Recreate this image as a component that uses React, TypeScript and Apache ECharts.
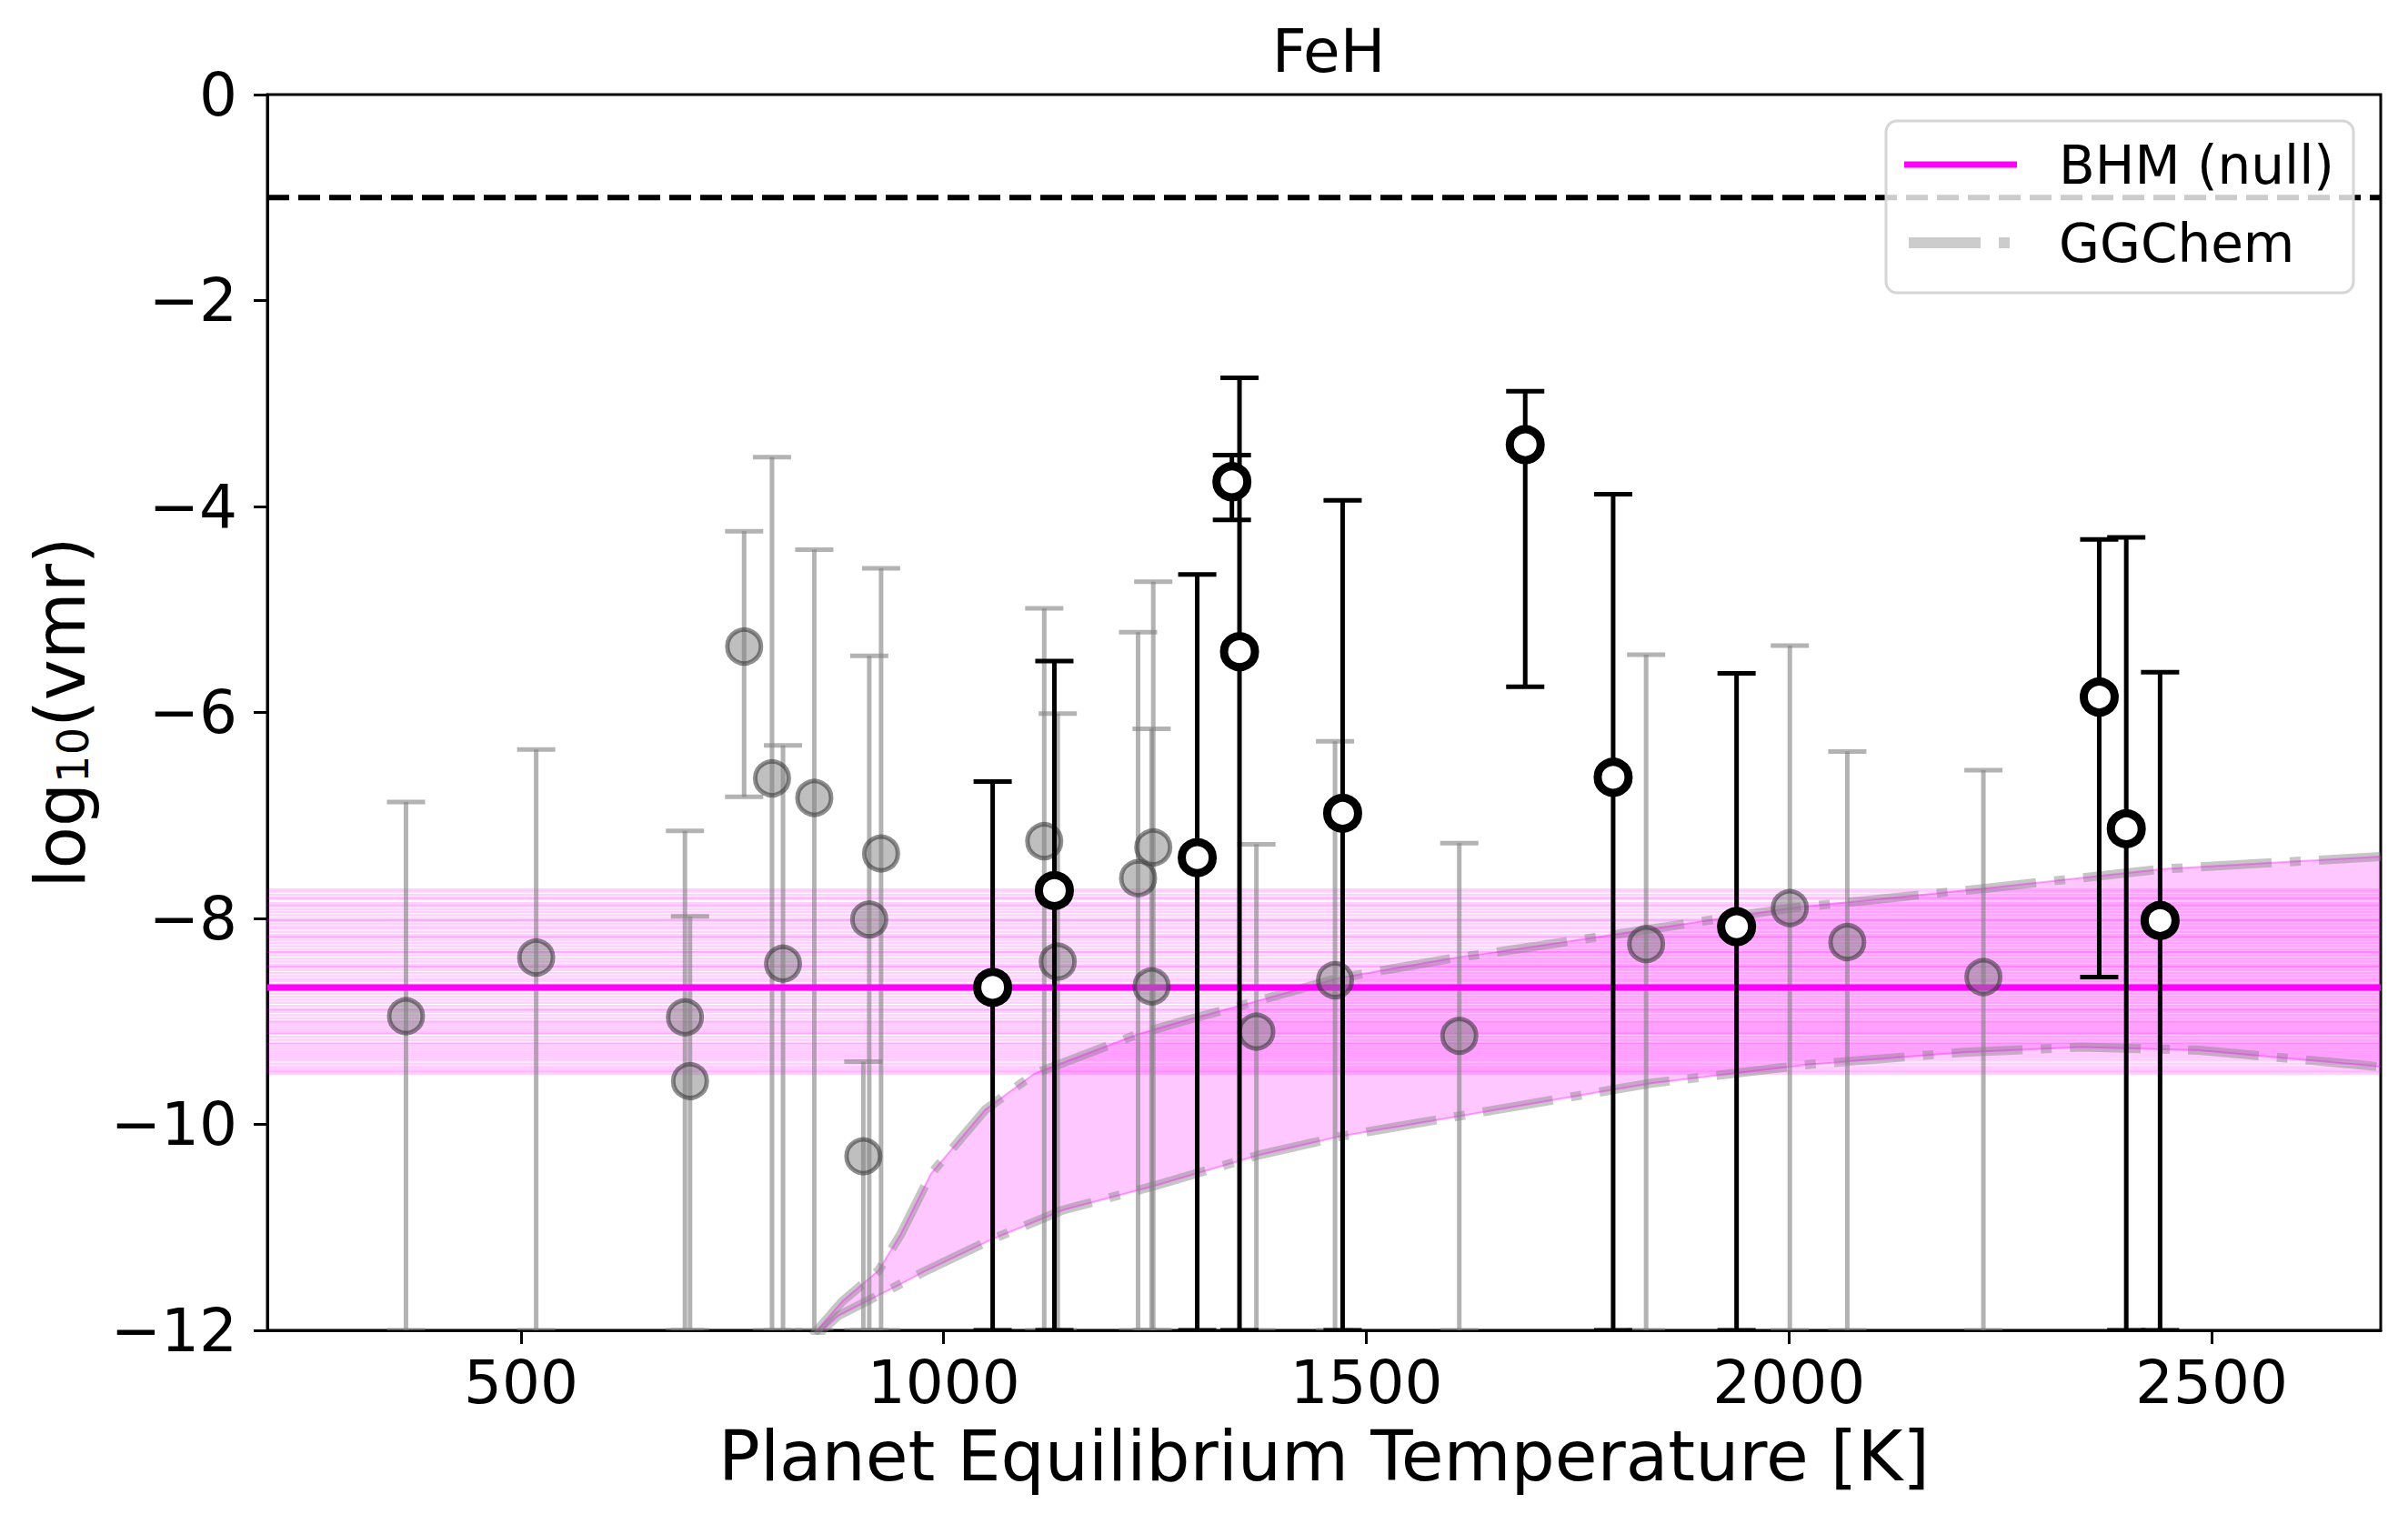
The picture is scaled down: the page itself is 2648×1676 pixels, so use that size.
import React, { useEffect, useRef } from 'react';
import * as echarts from 'echarts';

const FONT = 'DejaVu Sans';

// Axis ranges and ticks
const xMin = 200;
const xMax = 2700;
const yMin = -12;
const yMax = 0;
const xTicks = [500, 1000, 1500, 2000, 2500];

// Literature / other retrievals (grey points)
const grayTemp = [364, 518, 694, 700, 764, 797, 810, 847, 905, 912, 926, 1119, 1135, 1230, 1246, 1248, 1370, 1463, 1610, 1831, 2001, 2069, 2230];
const grayVal = [-8.95, -8.38, -8.96, -9.58, -5.36, -6.64, -8.44, -6.83, -10.31, -8.01, -7.37, -7.25, -8.42, -7.61, -8.66, -7.31, -9.10, -8.60, -9.14, -8.25, -7.90, -8.23, -8.57];
const grayUp = [-6.87, -6.36, -7.15, -7.98, -4.24, -3.52, -6.32, -4.42, -9.39, -5.45, -4.60, -4.99, -6.01, -5.22, -6.16, -4.73, -7.28, -6.28, -7.27, -5.44, -5.35, -6.38, -6.56];
const grayLow = [-12, -12, -12, -12, -6.82, -12, -12, -12, -12, -12, -12, -12, -12, -12, -12, -12, -12, -12, -12, -12, -12, -12, -12];

// This work (white points)
const blackTemp = [1058, 1131, 1300, 1341, 1350, 1472, 1688, 1792, 1938, 2367, 2399, 2439];
const blackVal = [-8.67, -7.73, -7.41, -3.76, -5.41, -6.98, -3.40, -6.63, -8.08, -5.85, -7.13, -8.02];
const blackUp = [-6.67, -5.50, -4.66, -3.50, -2.75, -3.94, -2.88, -3.88, -5.62, -4.32, -4.30, -5.61];
const blackLow = [-12, -12, -12, -4.13, -12, -12, -5.75, -12, -12, -8.57, -12, -12];

// BHM (null) median and posterior draws
const bhmMedian = -8.67;
const bhmSamples = [
  -7.72, -7.74, -7.77, -7.80, -7.81, -7.85, -7.87, -7.88, -7.91, -7.94, -7.97, -8.00, -8.02, -8.02,
  -8.05, -8.08, -8.10, -8.13, -8.16, -8.18, -8.18, -8.21, -8.24, -8.27, -8.30, -8.33, -8.33, -8.36,
  -8.39, -8.42, -8.45, -8.47, -8.47, -8.50, -8.53, -8.56, -8.59, -8.61, -8.64, -8.70, -8.73, -8.76,
  -8.79, -8.82, -8.85, -8.88, -8.89, -8.91, -8.94, -8.97, -9.00, -9.01, -9.03, -9.05, -9.07, -9.09,
  -9.11, -9.12, -9.15, -9.18, -9.21, -9.22, -9.24, -9.26, -9.28, -9.30, -9.32, -9.34, -9.36, -9.38,
  -9.41, -9.44, -9.46, -9.48, -9.49, -9.51,
];

// GGChem envelope
const ggUpperT = [845, 880, 923, 949, 985, 1049, 1107, 1142, 1228, 1282, 1372, 1467, 1607, 1652, 1791, 2001, 2230, 2442, 2700];
const ggUpperV = [-12.05, -11.72, -11.42, -11.07, -10.48, -9.86, -9.51, -9.40, -9.13, -9.00, -8.80, -8.58, -8.38, -8.33, -8.16, -7.90, -7.71, -7.52, -7.40];
const ggLowerT = [850, 875, 949, 977, 1056, 1142, 1248, 1372, 1467, 1652, 1837, 2022, 2207, 2346, 2485, 2700];
const ggLowerV = [-12.05, -11.86, -11.55, -11.43, -11.12, -10.83, -10.60, -10.30, -10.12, -9.86, -9.60, -9.42, -9.30, -9.25, -9.28, -9.44];

// Reference level (dashed)
const refLevel = -1;

const fmtY = (v: number) => (v < 0 ? '\u2212' + Math.abs(v) : String(v));
const fmtX = (v: number) => String(v);

function errRender(color: string, lw: number, capHalf: number) {
  return (params: any, api: any) => {
    const x = api.value(0);
    const lo = api.value(1);
    const hi = api.value(2);
    const pl = api.coord([x, lo]);
    const ph = api.coord([x, hi]);
    const style = { stroke: color, lineWidth: lw };
    return {
      type: 'group',
      children: [
        { type: 'line', shape: { x1: pl[0], y1: pl[1], x2: ph[0], y2: ph[1] }, style },
        { type: 'line', shape: { x1: pl[0] - capHalf, y1: pl[1], x2: pl[0] + capHalf, y2: pl[1] }, style },
        { type: 'line', shape: { x1: ph[0] - capHalf, y1: ph[1], x2: ph[0] + capHalf, y2: ph[1] }, style },
      ],
    };
  };
}

export default function App() {
  const ref = useRef<HTMLDivElement>(null);

  useEffect(() => {
    if (!ref.current) return;
    const chart = echarts.init(ref.current, null, { renderer: 'svg' });

    const ggLineCommon = {
      type: 'line',
      symbol: 'none',
      silent: true,
      clip: true,
    };

    const option: any = {
      animation: false,
      backgroundColor: '#fff',
      textStyle: { fontFamily: FONT },
      title: {
        text: 'FeH',
        left: 1456,
        top: 18,
        textAlign: 'center',
        textStyle: { fontFamily: FONT, fontSize: 66, fontWeight: 'normal', color: '#000' },
      },
      grid: {
        left: 294,
        top: 104,
        width: 2324,
        height: 1359,
        show: true,
        borderColor: '#000',
        borderWidth: 3,
        backgroundColor: 'transparent',
        containLabel: false,
      },
      xAxis: {
        type: 'value',
        min: xMin,
        max: xMax,
        name: 'Planet Equilibrium Temperature [K]',
        nameLocation: 'middle',
        nameGap: 100,
        nameTextStyle: { fontFamily: FONT, fontSize: 76, color: '#000' },
        axisLine: { show: true, onZero: false, lineStyle: { color: '#000', width: 3 } },
        axisTick: { show: true, customValues: xTicks, length: 15, lineStyle: { color: '#000', width: 3 } },
        axisLabel: { customValues: xTicks, fontFamily: FONT, fontSize: 66, color: '#000', margin: 24, formatter: fmtX },
        splitLine: { show: false },
      },
      yAxis: {
        type: 'value',
        min: yMin,
        max: yMax,
        interval: 2,
        name: 'log{sub|10}(vmr)',
        nameLocation: 'middle',
        nameGap: 190,
        nameTextStyle: {
          fontFamily: FONT,
          fontSize: 76,
          color: '#000',
          rich: {
            sub: { fontFamily: FONT, fontSize: 48, lineHeight: 33, verticalAlign: 'bottom', color: '#000' },
          },
        },
        axisLine: { show: true, onZero: false, lineStyle: { color: '#000', width: 3 } },
        axisTick: { show: true, length: 15, lineStyle: { color: '#000', width: 3 } },
        axisLabel: { fontFamily: FONT, fontSize: 66, color: '#000', margin: 33, formatter: fmtY },
        splitLine: { show: false },
      },
      series: [
        // BHM posterior draws
        {
          name: 'BHM samples',
          type: 'custom',
          silent: true,
          clip: true,
          z: 1,
          data: bhmSamples.map((v) => [xMin, v]),
          encode: { x: 0, y: 1 },
          renderItem: (params: any, api: any) => {
            const cs = params.coordSys;
            const y = api.coord([xMin, api.value(1)])[1];
            return {
              type: 'line',
              shape: { x1: cs.x, y1: y, x2: cs.x + cs.width, y2: y },
              style: { stroke: 'rgba(255,0,255,0.18)', lineWidth: 2.5 },
            };
          },
        },
        // GGChem envelope fill
        {
          name: 'GGChem fill',
          type: 'custom',
          silent: true,
          clip: true,
          z: 2,
          data: [[xMin, yMin]],
          encode: { x: 0, y: 1 },
          renderItem: (params: any, api: any) => {
            const pts: number[][] = [];
            for (let i = 0; i < ggUpperT.length; i++) pts.push(api.coord([ggUpperT[i], ggUpperV[i]]));
            for (let i = ggLowerT.length - 1; i >= 0; i--) pts.push(api.coord([ggLowerT[i], ggLowerV[i]]));
            return {
              type: 'polygon',
              shape: { points: pts },
              style: { fill: 'rgba(255,0,255,0.22)', stroke: 'none' },
            };
          },
        },
        // GGChem curves (grey dash-dot) and thin magenta edges
        {
          ...ggLineCommon,
          name: 'GGChem',
          z: 3,
          data: ggUpperT.map((t, i) => [t, ggUpperV[i]]),
          lineStyle: { color: 'rgba(128,128,128,0.45)', width: 10, type: [78, 20, 12, 20], cap: 'butt' },
        },
        {
          ...ggLineCommon,
          name: 'GGChem low',
          z: 3,
          data: ggLowerT.map((t, i) => [t, ggLowerV[i]]),
          lineStyle: { color: 'rgba(128,128,128,0.45)', width: 10, type: [78, 20, 12, 20], cap: 'butt' },
        },
        {
          ...ggLineCommon,
          name: 'GGChem edge up',
          z: 3,
          data: ggUpperT.map((t, i) => [t, ggUpperV[i]]),
          lineStyle: { color: 'rgba(255,0,255,0.35)', width: 2 },
        },
        {
          ...ggLineCommon,
          name: 'GGChem edge low',
          z: 3,
          data: ggLowerT.map((t, i) => [t, ggLowerV[i]]),
          lineStyle: { color: 'rgba(255,0,255,0.35)', width: 2 },
        },
        // reference dashed line
        {
          type: 'line',
          name: 'ref',
          symbol: 'none',
          silent: true,
          z: 3,
          data: [[xMin, refLevel], [xMax, refLevel]],
          lineStyle: { color: '#000', width: 6, type: [24, 10], cap: 'butt' },
        },
        // grey error bars
        {
          name: 'grey errors',
          type: 'custom',
          silent: true,
          clip: true,
          z: 4,
          data: grayTemp.map((t, i) => [t, grayLow[i], grayUp[i]]),
          encode: { x: 0, y: [1, 2] },
          renderItem: errRender('rgba(128,128,128,0.6)', 5, 21),
        },
        // BHM median
        {
          type: 'line',
          name: 'BHM (null)',
          symbol: 'none',
          silent: true,
          z: 5,
          data: [[xMin, bhmMedian], [xMax, bhmMedian]],
          lineStyle: { color: '#ff00ff', width: 7 },
        },
        // grey markers
        {
          type: 'scatter',
          name: 'grey points',
          silent: true,
          z: 6,
          symbol: 'circle',
          symbolSize: 37,
          data: grayTemp.map((t, i) => [t, grayVal[i]]),
          itemStyle: { color: 'rgba(128,128,128,0.5)', borderColor: 'rgba(50,50,50,0.55)', borderWidth: 5, opacity: 1 },
        },
        // black error bars
        {
          name: 'black errors',
          type: 'custom',
          silent: true,
          clip: true,
          z: 7,
          data: blackTemp.map((t, i) => [t, blackLow[i], blackUp[i]]),
          encode: { x: 0, y: [1, 2] },
          renderItem: errRender('#000', 5, 21),
        },
        // black / white markers
        {
          type: 'scatter',
          name: 'this work',
          silent: true,
          z: 8,
          symbol: 'circle',
          symbolSize: 34,
          data: blackTemp.map((t, i) => [t, blackVal[i]]),
          itemStyle: { color: '#fff', borderColor: '#000', borderWidth: 9, opacity: 1 },
        },
      ],
      graphic: [
        {
          type: 'rect',
          z: 100,
          shape: { x: 2074, y: 133, width: 514, height: 189, r: 12 },
          style: { fill: 'rgba(255,255,255,0.8)', stroke: '#d6d6d6', lineWidth: 3 },
        },
        {
          type: 'line',
          z: 101,
          shape: { x1: 2094, y1: 181, x2: 2218, y2: 181 },
          style: { stroke: '#ff00ff', lineWidth: 7 },
        },
        {
          type: 'line',
          z: 101,
          shape: { x1: 2099, y1: 267, x2: 2218, y2: 267 },
          style: { stroke: '#cccccc', lineWidth: 12, lineDash: [79, 20, 12, 20], lineCap: 'butt' },
        },
        {
          type: 'text',
          z: 101,
          x: 2264,
          y: 182,
          style: { text: 'BHM (null)', fontFamily: FONT, fontSize: 58, fill: '#000', verticalAlign: 'middle', align: 'left' },
        },
        {
          type: 'text',
          z: 101,
          x: 2264,
          y: 268,
          style: { text: 'GGChem', fontFamily: FONT, fontSize: 58, fill: '#000', verticalAlign: 'middle', align: 'left' },
        },
      ],
    };

    chart.setOption(option);
    return () => chart.dispose();
  }, []);

  return (
    <div
      ref={ref}
      style={{ position: 'absolute', left: 0, top: 0, width: 2648, height: 1676, background: '#fff' }}
    />
  );
}
